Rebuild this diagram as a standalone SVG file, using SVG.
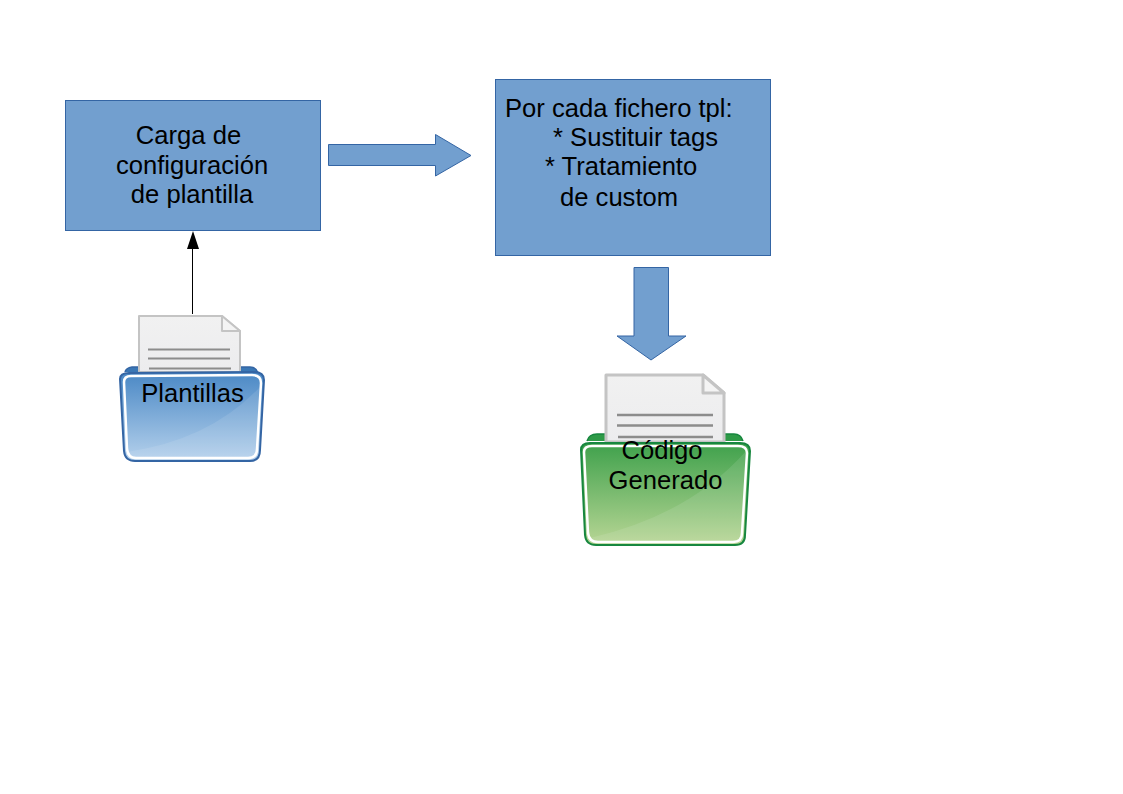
<svg xmlns="http://www.w3.org/2000/svg" width="1123" height="794" viewBox="0 0 1123 794">
<style>
.box{fill:#729fcf;stroke:#3465a4;stroke-width:1}
text{font-family:"Liberation Sans",Arial,sans-serif;font-size:25.6px;fill:#000}
.page{fill:url(#pg);stroke:#c4c4c4;stroke-linejoin:round}
.fold{fill:#f4f4f4;stroke:#c4c4c4;stroke-linejoin:round}
.ln{stroke:#8c8c8c;fill:none}
.inner{fill:none;stroke:#fff;stroke-width:2.500}
</style>
<defs>
<linearGradient id="pg" x1="0" y1="0" x2="0" y2="1"><stop offset="0" stop-color="#f1f1f1"/><stop offset="1" stop-color="#ececee"/></linearGradient>
<linearGradient id="bl" x1="0" y1="0" x2="0" y2="1"><stop offset="0" stop-color="#4a88c5"/><stop offset="1" stop-color="#b5d1ec"/></linearGradient>
<linearGradient id="gr" x1="0" y1="0" x2="0" y2="1"><stop offset="0" stop-color="#3fa14c"/><stop offset="1" stop-color="#b8d695"/></linearGradient>
</defs>
<rect width="1123" height="794" fill="#fff"/>
<g id="connectors">
<path d="M192.500 314V245" stroke="#000" stroke-width="1" fill="none"/>
<path d="M187 249L193 231L199 249Z" fill="#000"/>
<path id="arrow-right" class="box" d="M328.500 144.500H435.500V134.500L471 155.500L435.500 176V165.500H328.500Z"/>
<path id="arrow-down" class="box" d="M634 267.500H668.500V336H686L651 360L617 336H634Z"/>
</g>
<g id="node-carga">
<rect class="box" x="65.500" y="100.500" width="255" height="130"/>
<text x="188.500" y="144" text-anchor="middle">Carga de</text>
<text x="192" y="174" text-anchor="middle">configuración</text>
<text x="192" y="203" text-anchor="middle">de plantilla</text>
</g>
<g id="node-proceso">
<rect class="box" x="495.500" y="79.500" width="275" height="176"/>
<text x="505" y="117">Por cada fichero tpl:</text>
<text x="553" y="146">* Sustituir tags</text>
<text x="545" y="175">* Tratamiento</text>
<text x="560" y="206">de custom</text>
</g>
<g id="node-plantillas">
<path d="M125 372Q126 368 132 367H250Q256 367 258 373" fill="#3a77b5" stroke="#3465a4" stroke-width="1.500"/>
<path class="page" stroke-width="2" d="M139 372V316H222L240 331V372Z"/>
<path class="fold" stroke-width="2" d="M222 316V331H240Z"/>
<path class="ln" stroke-width="2" d="M148 349.500H230M148 358.500H230M149 368.500H231"/>
<path d="M120 379Q120 373 129 373L254 372Q264 372 264 380L260 450Q260 461 250 461L135 461Q125 461 124 451Z" fill="url(#bl)" stroke="#3465a4" stroke-width="2"/>
<path class="inner" d="M124 382Q124 376 131 376L252 375Q261 375 261 383L257 449Q257 458 248 458L136 458Q128 458 127 449Z"/>
<path d="M127 452Q210 440 260 387L257 449Q257 458 248 458L136 458Q128 458 127 452Z" fill="#fff" opacity=".1"/>
<text x="192.500" y="402" text-anchor="middle">Plantillas</text>
</g>
<g id="node-codigo">
<path d="M587 441Q589 434 597 434H734Q741 434 743 441" fill="#2e9a47" stroke="#17873f" stroke-width="1.500"/>
<path class="page" stroke-width="3" d="M606 442V375H703L724 393V442Z"/>
<path class="fold" stroke-width="3" d="M703 375V393H724Z"/>
<path class="ln" stroke-width="2.500" d="M617 415H713M617 425.500H713M618 437H713"/>
<path d="M581 450Q581 443 590 443L740 443Q750 443 750 451L745 535Q745 545 735 545L596 545Q586 545 585 535Z" fill="url(#gr)" stroke="#17873f" stroke-width="2"/>
<path class="inner" d="M584 452Q584 446 592 446L738 446Q747 446 747 453L742 533Q742 542 733 542L598 542Q589 542 588 533Z"/>
<path d="M590 538Q690 515 747 450L742 533Q742 542 733 542L598 542Q591 542 590 538Z" fill="#fff" opacity=".1"/>
<text x="662" y="459" text-anchor="middle">Código</text>
<text x="665.500" y="489" text-anchor="middle">Generado</text>
</g>
</svg>
